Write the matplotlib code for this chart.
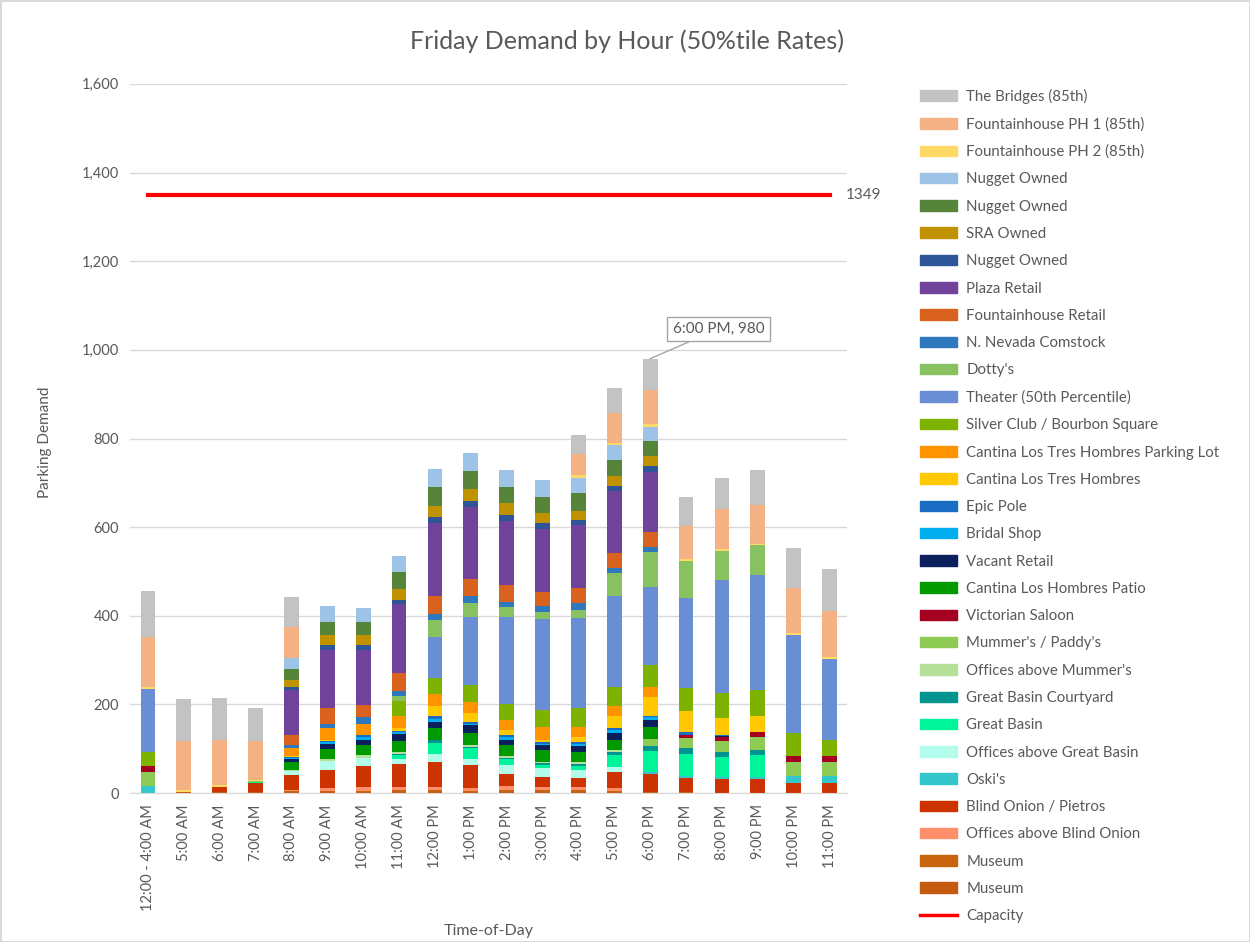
import numpy as np
from matplotlib import pyplot as plt
from matplotlib.patches import Patch
from matplotlib.lines import Line2D

plt.rcParams['font.family'] = ['Lato', 'DejaVu Sans']

hours = ['12:00 - 4:00 AM', '5:00 AM', '6:00 AM', '7:00 AM', '8:00 AM', '9:00 AM',
         '10:00 AM', '11:00 AM', '12:00 PM', '1:00 PM', '2:00 PM', '3:00 PM',
         '4:00 PM', '5:00 PM', '6:00 PM', '7:00 PM', '8:00 PM', '9:00 PM',
         '10:00 PM', '11:00 PM']

# stacked from the bottom up
museum_a = [0, 3, 3, 2, 2, 2, 3, 3, 3, 3, 3, 3, 3, 3, 1, 1, 0, 0, 0, 0]
museum_b = [0, 0, 0, 0, 2, 3, 3, 4, 4, 3, 4, 4, 4, 3, 1, 1, 1, 1, 0, 0]
offices_blind_onion = [0, 0, 0, 0, 3, 6, 8, 7, 7, 5, 9, 7, 7, 5, 1, 1, 0, 0, 0, 0]
blind_onion = [0, 0, 12, 21, 34, 41, 47, 52, 57, 52, 28, 23, 21, 37, 41, 32, 32, 32, 23, 22]
oskis = [17, 0, 0, 0, 0, 0, 0, 0, 0, 0, 0, 0, 0, 0, 3, 3, 4, 3, 15, 16]
offices_great_basin = [0, 0, 0, 0, 8, 21, 19, 12, 17, 15, 19, 19, 18, 11, 0, 0, 0, 0, 0, 0]
great_basin = [0, 0, 0, 2, 0, 0, 0, 8, 25, 23, 13, 7, 8, 27, 47, 51, 44, 49, 0, 0]
great_basin_courtyard = [0, 0, 0, 0, 0, 0, 0, 3, 8, 4, 4, 4, 5, 6, 13, 13, 12, 13, 0, 0]
offices_mummers = [0, 0, 0, 0, 3, 5, 6, 3, 0, 3, 3, 4, 5, 5, 0, 0, 0, 0, 0, 0]
mummers = [30, 0, 0, 2, 0, 0, 0, 0, 0, 0, 0, 0, 0, 0, 16, 22, 25, 29, 33, 33]
victorian = [15, 0, 0, 0, 0, 0, 0, 0, 0, 0, 0, 0, 0, 0, 0, 8, 9, 10, 13, 13]
cantina_patio = [0, 0, 0, 0, 19, 21, 22, 26, 26, 27, 25, 26, 22, 24, 26, 0, 0, 0, 0, 0]
vacant_retail = [0, 0, 0, 0, 6, 12, 12, 15, 14, 18, 13, 11, 13, 15, 15, 0, 2, 0, 0, 0]
bridal_shop = [0, 0, 0, 0, 2, 4, 6, 4, 7, 4, 5, 4, 5, 6, 7, 0, 0, 0, 0, 0]
epic_pole = [0, 0, 0, 0, 2, 3, 5, 4, 6, 4, 5, 4, 5, 5, 4, 7, 2, 0, 0, 0]
cantina = [0, 0, 0, 0, 3, 3, 0, 7, 22, 19, 11, 5, 11, 27, 42, 47, 38, 36, 0, 0]
cantina_lot = [0, 0, 0, 0, 17, 25, 26, 27, 27, 26, 24, 29, 23, 22, 22, 0, 0, 0, 0, 0]
silver_club = [30, 0, 0, 0, 0, 0, 0, 34, 36, 38, 36, 37, 41, 44, 49, 51, 56, 59, 51, 37]
theater = [143, 0, 0, 0, 0, 0, 0, 0, 94, 154, 196, 205, 205, 205, 178, 203, 256, 261, 222, 181]
dottys = [0, 0, 0, 0, 0, 0, 0, 11, 37, 31, 21, 17, 18, 51, 77, 83, 65, 66, 0, 0]
nn_comstock = [0, 0, 0, 0, 7, 11, 14, 11, 15, 16, 13, 13, 14, 11, 13, 0, 0, 0, 0, 0]
fh_retail = [0, 0, 0, 0, 23, 34, 28, 40, 40, 39, 37, 32, 34, 35, 33, 0, 0, 0, 0, 0]
plaza_retail = [0, 0, 0, 0, 101, 133, 125, 155, 165, 161, 146, 141, 143, 140, 136, 0, 0, 0, 0, 0]
nugget_dark = [0, 0, 0, 0, 7, 10, 10, 9, 12, 14, 12, 15, 11, 11, 13, 0, 0, 0, 0, 0]
sra_owned = [0, 0, 0, 0, 16, 23, 23, 25, 26, 26, 27, 22, 21, 22, 22, 0, 0, 0, 0, 0]
nugget_green = [0, 0, 0, 0, 24, 29, 29, 38, 42, 42, 36, 37, 39, 36, 35, 0, 0, 0, 0, 0]
nugget_light = [0, 0, 0, 0, 25, 37, 31, 37, 41, 41, 39, 37, 36, 34, 32, 0, 0, 0, 0, 0]
fh_ph2 = [5, 5, 3, 3, 0, 0, 0, 0, 0, 0, 0, 0, 6, 5, 5, 6, 4, 4, 5, 6]
fh_ph1 = [113, 110, 103, 88, 71, 0, 0, 0, 0, 0, 0, 0, 46, 68, 78, 74, 90, 88, 100, 103]
bridges = [102, 95, 94, 74, 67, 0, 0, 0, 0, 0, 0, 0, 44, 55, 70, 65, 72, 77, 92, 94]

capacity = [1349] * len(hours)

series = [
    ('Museum', museum_a, '#C55A11'),
    ('Museum', museum_b, '#C8640E'),
    ('Offices above Blind Onion', offices_blind_onion, '#FF8F6B'),
    ('Blind Onion / Pietros', blind_onion, '#CC3300'),
    ("Oski's", oskis, '#33C7CC'),
    ('Offices above Great Basin', offices_great_basin, '#B3FCEB'),
    ('Great Basin', great_basin, '#00F59A'),
    ('Great Basin Courtyard', great_basin_courtyard, '#009490'),
    ("Offices above Mummer's", offices_mummers, '#B5E09A'),
    ("Mummer's / Paddy's", mummers, '#8DCB55'),
    ('Victorian Saloon', victorian, '#A50021'),
    ('Cantina Los Hombres Patio', cantina_patio, '#009A00'),
    ('Vacant Retail', vacant_retail, '#0A1F5C'),
    ('Bridal Shop', bridal_shop, '#00AEEF'),
    ('Epic Pole', epic_pole, '#1A6DC2'),
    ('Cantina Los Tres Hombres', cantina, '#FFC800'),
    ('Cantina Los Tres Hombres Parking Lot', cantina_lot, '#FF9400'),
    ('Silver Club / Bourbon Square', silver_club, '#7DB200'),
    ('Theater (50th Percentile)', theater, '#6A8ED6'),
    ("Dotty's", dottys, '#88C260'),
    ('N. Nevada Comstock', nn_comstock, '#2E78BE'),
    ('Fountainhouse Retail', fh_retail, '#D9631E'),
    ('Plaza Retail', plaza_retail, '#70429A'),
    ('Nugget Owned', nugget_dark, '#2F5599'),
    ('SRA Owned', sra_owned, '#C09200'),
    ('Nugget Owned', nugget_green, '#568438'),
    ('Nugget Owned', nugget_light, '#9DC3E6'),
    ('Fountainhouse PH 2 (85th)', fh_ph2, '#FFD966'),
    ('Fountainhouse PH 1 (85th)', fh_ph1, '#F4B183'),
    ('The Bridges (85th)', bridges, '#C3C3C3'),
]

grey = '#595959'
fig = plt.figure(figsize=(12.5, 9.42), dpi=100)
ax = fig.add_axes([0.104, 0.158, 0.574, 0.753])

x = np.arange(len(hours))
bottom = np.zeros(len(hours))
for name, vals, col in series:
    vals = np.array(vals, dtype=float)
    ax.bar(x, vals, bottom=bottom, width=0.41, color=col, zorder=2)
    bottom += vals

ax.plot(x, capacity, color='#FF0000', lw=3, zorder=3)
ax.annotate(str(capacity[-1]), xy=(x[-1], capacity[-1]), xytext=(12, 0),
            textcoords='offset points', va='center', ha='left', fontsize=11, color=grey)

peak = int(np.argmax(bottom))
ax.annotate('%s, %d' % (hours[peak], bottom[peak]), xy=(peak, bottom[peak]),
            xytext=(peak + 1.9, 1047), ha='center', va='center', fontsize=11, color=grey,
            bbox=dict(boxstyle='square,pad=0.35', fc='white', ec='#A6A6A6', lw=1),
            arrowprops=dict(arrowstyle='-', color='#A6A6A6', lw=1,
                            shrinkA=0, shrinkB=0), zorder=4)

ax.set_xlim(-0.5, len(hours) - 0.5)
ax.set_ylim(0, 1600)
ax.set_yticks(np.arange(0, 1601, 200))
ax.set_yticklabels(['{:,}'.format(v) for v in range(0, 1601, 200)])
ax.set_xticks(x)
ax.set_xticklabels(hours, rotation=90)
ax.tick_params(axis='both', length=0, labelsize=10.5, colors=grey, pad=8)
ax.yaxis.grid(True, color='#D9D9D9', lw=1, zorder=0)
for s in ['top', 'right', 'left']:
    ax.spines[s].set_visible(False)
ax.spines['bottom'].set_color('#D9D9D9')

fig.text(0.502, 0.956, 'Friday Demand by Hour (50%tile Rates)', ha='center', va='center',
         fontsize=18, color=grey)
fig.text(0.036, 0.531, 'Parking Demand', rotation=90, ha='center', va='center',
         fontsize=11, color=grey)
fig.text(0.391, 0.012, 'Time-of-Day', ha='center', va='center', fontsize=11.5, color=grey)

handles = [Patch(color=col) for _, _, col in series[::-1]]
labels = [name for name, _, _ in series[::-1]]
handles.append(Line2D([0], [0], color='#FF0000', lw=2.5))
labels.append('Capacity')
fig.legend(handles, labels, loc='upper left', bbox_to_anchor=(0.725, 0.920),
           frameon=False, fontsize=10.8, labelcolor=grey, handlelength=2.5,
           handleheight=0.7, handletextpad=0.6, labelspacing=0.885)

fig.patch.set_edgecolor('#D9D9D9')
fig.patch.set_linewidth(2)
plt.savefig('out.png', dpi=100, facecolor='white', edgecolor='#D9D9D9')
